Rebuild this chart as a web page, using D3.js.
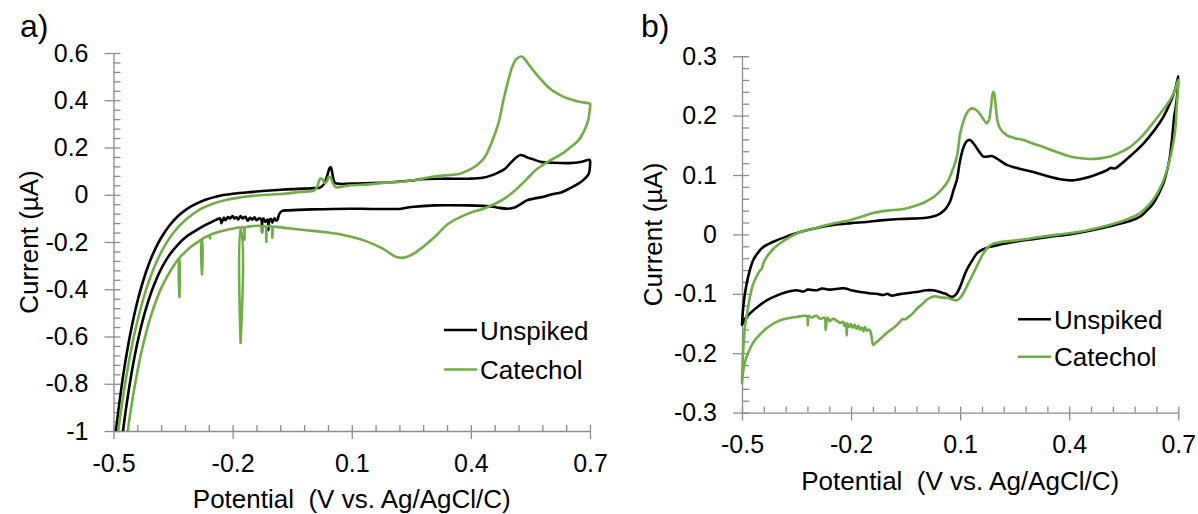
<!DOCTYPE html>
<html>
<head>
<meta charset="utf-8">
<script src="https://cdn.jsdelivr.net/npm/d3@7"></script>
<style>
  html, body { margin: 0; padding: 0; background: #ffffff; }
  svg { display: block; font-family: "Liberation Sans", Arial, Helvetica, sans-serif; }
</style>
</head>
<body>
<svg id="chart" width="1198" height="514"></svg>
<script>
// ---- tick values -------------------------------------------------------
const potentialTicks = [-0.5, -0.2, 0.1, 0.4, 0.7];
const potentialMinorTicks = [-0.44, -0.38, -0.32, -0.26, -0.14, -0.08, -0.02, 0.04,
  0.16, 0.22, 0.28, 0.34, 0.46, 0.52, 0.58, 0.64];
const currentTicksA = [0.6, 0.4, 0.2, 0, -0.2, -0.4, -0.6, -0.8, -1];
const currentTicksB = [0.3, 0.2, 0.1, 0, -0.1, -0.2, -0.3];

const seriesNames = ["Unspiked", "Catechol"];
const seriesColors = ["#000000", "#70ad47"];
const panelLabels = ["a)", "b)"];

// ---- panel a: [potential (V), current (µA)] ----------------------------
const unspikedA = [
  [-0.497,-1.05],[-0.494,-1.0],[-0.485,-0.878],[-0.475,-0.758],[-0.465,-0.655],[-0.455,-0.566],
  [-0.44,-0.453],[-0.425,-0.363],[-0.41,-0.289],[-0.395,-0.23],[-0.38,-0.182],[-0.36,-0.132],
  [-0.34,-0.094],[-0.32,-0.066],[-0.3,-0.045],[-0.27,-0.022],[-0.24,-0.007],[-0.2,0.004],
  [-0.15,0.012],[-0.071,0.022],[-0.02,0.026],[0.005,0.028],[0.02,0.03],[0.03,0.045],
  [0.038,0.08],[0.044,0.112],[0.047,0.117],[0.05,0.1],[0.054,0.065],[0.058,0.05],[0.07,0.046],
  [0.098,0.047],[0.15,0.049],[0.2,0.053],[0.25,0.06],[0.274,0.066],[0.33,0.068],[0.393,0.068],
  [0.43,0.072],[0.452,0.082],[0.47,0.095],[0.486,0.11],[0.5,0.135],[0.515,0.159],[0.525,0.168],
  [0.532,0.166],[0.545,0.156],[0.553,0.152],[0.579,0.138],[0.6,0.136],[0.646,0.134],[0.68,0.14],
  [0.698,0.148],[0.7,0.145],
  [0.7,0.124],[0.697,0.089],[0.685,0.065],[0.671,0.047],[0.65,0.028],[0.629,0.011],[0.6,0.0],
  [0.579,-0.01],[0.56,-0.016],[0.541,-0.024],[0.53,-0.035],[0.52,-0.045],[0.51,-0.054],
  [0.494,-0.059],[0.47,-0.055],[0.461,-0.052],[0.43,-0.047],[0.393,-0.045],[0.309,-0.045],
  [0.25,-0.052],[0.2246,-0.059],[0.15,-0.06],[0.098,-0.059],[0.0,-0.062],[-0.06,-0.066],
  [-0.075,-0.068],[-0.082,-0.08],[-0.087,-0.105],[-0.09,-0.11],[-0.095,-0.1],[-0.1,-0.118],
  [-0.104,-0.102],[-0.108,-0.112],[-0.11,-0.15],[-0.112,-0.105],[-0.118,-0.115],[-0.122,-0.1],
  [-0.125,-0.11],[-0.126,-0.158],[-0.128,-0.105],[-0.133,-0.1],[-0.14,-0.108],[-0.145,-0.095],
  [-0.15,-0.105],[-0.156,-0.098],[-0.162,-0.11],[-0.168,-0.093],[-0.175,-0.1],[-0.18,-0.09],
  [-0.186,-0.105],[-0.19,-0.095],[-0.196,-0.1],[-0.2,-0.09],[-0.207,-0.1],[-0.212,-0.094],
  [-0.218,-0.108],[-0.222,-0.097],[-0.228,-0.12],[-0.232,-0.1],[-0.24,-0.105],[-0.256,-0.118],
  [-0.276,-0.135],[-0.296,-0.155],[-0.316,-0.177],[-0.336,-0.208],[-0.356,-0.248],[-0.376,-0.301],
  [-0.391,-0.353],[-0.406,-0.418],[-0.421,-0.498],[-0.436,-0.598],[-0.446,-0.677],[-0.456,-0.769],
  [-0.466,-0.876],[-0.476,-1.0],[-0.479,-1.05]
];

const catecholA = [
  [-0.491,-1.05],[-0.488,-1.0],[-0.478,-0.879],[-0.468,-0.772],[-0.458,-0.678],[-0.448,-0.595],
  [-0.433,-0.49],[-0.418,-0.402],[-0.403,-0.33],[-0.388,-0.271],[-0.37,-0.213],[-0.35,-0.163],
  [-0.33,-0.124],[-0.31,-0.094],[-0.28,-0.06],[-0.25,-0.038],[-0.22,-0.023],[-0.18,-0.011],
  [-0.13,-0.002],[-0.071,0.004],[-0.03,0.012],[0.005,0.018],[0.012,0.03],[0.018,0.06],
  [0.022,0.07],[0.027,0.065],[0.032,0.05],[0.037,0.055],[0.042,0.075],[0.047,0.073],[0.052,0.05],
  [0.06,0.032],[0.08,0.036],[0.098,0.04],[0.15,0.045],[0.178,0.05],[0.2246,0.055],[0.255,0.061],
  [0.3,0.075],[0.334,0.082],[0.37,0.088],[0.393,0.103],[0.415,0.125],[0.435,0.159],[0.452,0.22],
  [0.469,0.3],[0.482,0.4],[0.494,0.483],[0.505,0.545],[0.515,0.575],[0.528,0.585],[0.537,0.572],
  [0.545,0.553],[0.56,0.52],[0.579,0.483],[0.595,0.455],[0.612,0.434],[0.635,0.413],[0.663,0.398],
  [0.685,0.39],[0.7,0.385],
  [0.7,0.37],[0.698,0.34],[0.695,0.313],[0.685,0.27],[0.671,0.23],[0.65,0.2],[0.629,0.173],
  [0.6,0.145],[0.579,0.124],[0.56,0.1],[0.545,0.074],[0.528,0.045],[0.511,0.018],[0.49,-0.01],
  [0.461,-0.038],[0.43,-0.06],[0.393,-0.08],[0.343,-0.123],[0.309,-0.179],[0.28,-0.22],
  [0.255,-0.25],[0.235,-0.265],[0.226,-0.267],[0.21,-0.262],[0.178,-0.228],[0.129,-0.192],
  [0.081,-0.171],[0.04,-0.16],[-0.015,-0.15],[-0.06,-0.142],[-0.09,-0.136],[-0.099,-0.136],
  [-0.1,-0.182],[-0.101,-0.136],[-0.113,-0.135],[-0.115,-0.2],[-0.117,-0.135],[-0.124,-0.134],
  [-0.125,-0.16],[-0.126,-0.134],[-0.16,-0.135],[-0.168,-0.138],[-0.17,-0.19],[-0.172,-0.14],
  [-0.178,-0.139],[-0.18,-0.627],[-0.182,-0.14],[-0.197,-0.143],[-0.224,-0.152],[-0.244,-0.162],
  [-0.256,-0.17],[-0.257,-0.185],[-0.258,-0.172],[-0.264,-0.176],[-0.276,-0.188],[-0.277,-0.337],
  [-0.278,-0.19],[-0.284,-0.196],[-0.304,-0.219],[-0.324,-0.25],[-0.333,-0.266],[-0.334,-0.433],
  [-0.335,-0.27],[-0.344,-0.29],[-0.364,-0.343],[-0.379,-0.392],[-0.394,-0.454],[-0.409,-0.531],
  [-0.424,-0.625],[-0.434,-0.7],[-0.444,-0.786],[-0.454,-0.884],[-0.464,-1.0],[-0.467,-1.05]
];

// ---- panel b: [potential (V), current (µA)] ----------------------------
const unspikedB = [
  [-0.5,-0.152],[-0.497,-0.125],[-0.492,-0.1],[-0.483,-0.071],[-0.469,-0.043],[-0.455,-0.03],
  [-0.441,-0.021],[-0.405,-0.01],[-0.37,-0.002],[-0.34,0.004],[-0.3,0.01],[-0.249,0.016],
  [-0.2,0.019],[-0.157,0.021],[-0.11,0.024],[-0.065,0.026],[0.008,0.028],[0.03,0.031],
  [0.045,0.035],[0.06,0.043],[0.072,0.055],[0.082,0.075],[0.091,0.092],[0.1,0.125],[0.11,0.148],
  [0.118,0.157],[0.127,0.159],[0.137,0.153],[0.146,0.145],[0.155,0.137],[0.164,0.131],
  [0.175,0.131],[0.187,0.132],[0.2,0.128],[0.215,0.122],[0.228,0.117],[0.26,0.111],[0.301,0.105],
  [0.347,0.097],[0.375,0.093],[0.402,0.091],[0.43,0.093],[0.457,0.097],[0.48,0.102],[0.503,0.108],
  [0.515,0.112],[0.525,0.111],[0.54,0.117],[0.57,0.133],[0.604,0.153],[0.635,0.176],[0.659,0.198],
  [0.68,0.225],[0.693,0.248],[0.7,0.266],
  [0.697,0.235],[0.692,0.21],[0.689,0.2],[0.686,0.181],[0.677,0.131],[0.668,0.105],[0.659,0.086],
  [0.645,0.067],[0.631,0.052],[0.61,0.038],[0.595,0.03],[0.565,0.022],[0.545,0.019],[0.5,0.012],
  [0.439,0.004],[0.4,0.0],[0.347,-0.004],[0.3,-0.008],[0.256,-0.012],[0.21,-0.017],[0.182,-0.021],
  [0.16,-0.026],[0.146,-0.032],[0.132,-0.045],[0.118,-0.06],[0.108,-0.075],[0.1,-0.088],
  [0.09,-0.1],[0.08,-0.105],[0.072,-0.104],[0.06,-0.1],[0.045,-0.097],[0.025,-0.094],
  [0.008,-0.094],[-0.02,-0.097],[-0.047,-0.099],[-0.07,-0.101],[-0.09,-0.103],[-0.1,-0.1],
  [-0.111,-0.102],[-0.13,-0.1],[-0.15,-0.099],[-0.175,-0.097],[-0.2,-0.094],[-0.215,-0.091],
  [-0.23,-0.091],[-0.26,-0.093],[-0.28,-0.091],[-0.294,-0.094],[-0.32,-0.093],[-0.33,-0.096],
  [-0.35,-0.094],[-0.377,-0.097],[-0.405,-0.103],[-0.432,-0.111],[-0.455,-0.121],[-0.478,-0.133],
  [-0.492,-0.143],[-0.5,-0.152]
];

const catecholB = [
  [-0.5,-0.25],[-0.498,-0.21],[-0.495,-0.18],[-0.492,-0.156],[-0.485,-0.13],[-0.478,-0.105],
  [-0.47,-0.085],[-0.46,-0.071],[-0.452,-0.062],[-0.446,-0.058],[-0.44,-0.047],[-0.432,-0.038],
  [-0.415,-0.025],[-0.395,-0.015],[-0.37,-0.005],[-0.34,0.004],[-0.3,0.01],[-0.267,0.016],
  [-0.235,0.02],[-0.203,0.024],[-0.17,0.03],[-0.139,0.036],[-0.1,0.04],[-0.065,0.042],
  [-0.04,0.045],[-0.019,0.049],[0.005,0.055],[0.027,0.063],[0.045,0.073],[0.063,0.086],
  [0.077,0.105],[0.091,0.131],[0.1,0.17],[0.11,0.192],[0.118,0.204],[0.127,0.211],[0.136,0.212],
  [0.145,0.209],[0.155,0.202],[0.165,0.193],[0.173,0.187],[0.179,0.192],[0.184,0.21],[0.188,0.232],
  [0.191,0.24],[0.194,0.236],[0.198,0.215],[0.203,0.19],[0.21,0.178],[0.228,0.167],[0.25,0.162],
  [0.274,0.159],[0.3,0.153],[0.329,0.147],[0.36,0.14],[0.393,0.133],[0.42,0.129],[0.457,0.127],
  [0.485,0.128],[0.512,0.131],[0.54,0.138],[0.567,0.147],[0.595,0.162],[0.622,0.181],[0.65,0.203],
  [0.677,0.226],[0.69,0.242],[0.7,0.26],
  [0.698,0.235],[0.695,0.21],[0.693,0.185],[0.688,0.16],[0.68,0.135],[0.667,0.105],[0.655,0.085],
  [0.64,0.067],[0.62,0.05],[0.595,0.036],[0.57,0.028],[0.545,0.022],[0.5,0.014],[0.45,0.007],
  [0.4,0.002],[0.347,-0.002],[0.3,-0.006],[0.256,-0.01],[0.21,-0.013],[0.19,-0.016],[0.175,-0.022],
  [0.164,-0.032],[0.15,-0.048],[0.136,-0.066],[0.122,-0.083],[0.109,-0.099],[0.1,-0.107],
  [0.091,-0.111],[0.081,-0.11],[0.065,-0.107],[0.045,-0.106],[0.032,-0.104],[0.02,-0.106],
  [0.008,-0.11],[-0.005,-0.118],[-0.019,-0.125],[-0.03,-0.133],[-0.042,-0.139],[-0.051,-0.143],
  [-0.06,-0.143],[-0.065,-0.147],[-0.08,-0.156],[-0.102,-0.166],[-0.12,-0.176],[-0.133,-0.183],
  [-0.139,-0.186],[-0.143,-0.175],[-0.147,-0.163],[-0.152,-0.16],[-0.157,-0.162],[-0.162,-0.156],
  [-0.166,-0.163],[-0.17,-0.157],[-0.176,-0.16],[-0.18,-0.154],[-0.186,-0.159],[-0.19,-0.152],
  [-0.196,-0.157],[-0.2,-0.151],[-0.205,-0.156],[-0.21,-0.15],[-0.212,-0.17],[-0.214,-0.15],
  [-0.218,-0.154],[-0.222,-0.147],[-0.23,-0.149],[-0.24,-0.145],[-0.25,-0.142],[-0.258,-0.146],
  [-0.265,-0.14],[-0.27,-0.161],[-0.273,-0.14],[-0.285,-0.142],[-0.295,-0.137],[-0.31,-0.14],
  [-0.318,-0.137],[-0.319,-0.153],[-0.321,-0.138],[-0.35,-0.139],[-0.386,-0.143],[-0.41,-0.149],
  [-0.432,-0.158],[-0.45,-0.168],[-0.469,-0.182],[-0.48,-0.195],[-0.492,-0.215],[-0.497,-0.232],
  [-0.5,-0.25]
];

// ---- layout --------------------------------------------------------------
const panels = [
  { label: panelLabels[0], series: [unspikedA, catecholA], yTicks: currentTicksA,
    yMinor: 0.04, yDomain: [-1, 0.6],
    xRange: [113.5, 590], yRange: [431, 53],
    labelPos: [20, 37], yTitleX: 38, xTitleY: 508,
    legend: { x: 444, y: 330, gap: 39.5 } },
  { label: panelLabels[1], series: [unspikedB, catecholB], yTicks: currentTicksB,
    yMinor: 0.02, yDomain: [-0.3, 0.3],
    xRange: [742, 1178.3], yRange: [412.6, 56.2],
    labelPos: [641, 37], yTitleX: 662, xTitleY: 490,
    legend: { x: 1018, y: 319.3, gap: 37.4 } }
];

const svg = d3.select("#chart");
const axisColor = "#8c8c8c";
const fmt = d => String(d);

panels.forEach((p, pi) => {
  const x = d3.scaleLinear().domain([-0.5, 0.7]).range(p.xRange);
  const y = d3.scaleLinear().domain(p.yDomain).range(p.yRange);
  const g = svg.append("g");

  // minor tick values on the current axis
  const yMinorVals = d3.range(p.yDomain[0], p.yDomain[1] + 1e-9, p.yMinor)
    .map(v => +v.toFixed(3));

  // inner ticks (right of the y axis, above the x axis)
  g.append("g")
    .attr("transform", `translate(${p.xRange[0]},0)`)
    .call(d3.axisRight(y).tickValues(yMinorVals).tickSize(7).tickFormat(""))
    .call(a => a.select(".domain").remove());
  g.append("g")
    .attr("transform", `translate(0,${p.yRange[0]})`)
    .call(d3.axisTop(x).tickValues(potentialTicks.concat(potentialMinorTicks)).tickSize(6).tickFormat(""))
    .call(a => a.select(".domain").remove());

  // labelled axes with crossing major ticks
  const yAxis = g.append("g")
    .attr("transform", `translate(${p.xRange[0]},0)`)
    .call(d3.axisLeft(y).tickValues(p.yTicks).tickSize(9).tickSizeOuter(0).tickPadding(16).tickFormat(fmt));
  const xAxis = g.append("g")
    .attr("transform", `translate(0,${p.yRange[0]})`)
    .call(d3.axisBottom(x).tickValues(potentialTicks).tickSize(8).tickSizeOuter(0).tickPadding(15).tickFormat(fmt));

  g.selectAll(".tick line, .domain")
    .attr("stroke", axisColor).attr("stroke-width", 1.3);
  [yAxis, xAxis].forEach(a => a.selectAll("text")
    .attr("font-size", 25).attr("fill", "#000")
    .attr("font-family", "'Liberation Sans', Arial, sans-serif"));

  // curves
  const clipId = "clip" + pi;
  svg.append("clipPath").attr("id", clipId).append("rect")
    .attr("x", p.xRange[0] - 4).attr("y", p.yRange[1] - 4)
    .attr("width", p.xRange[1] - p.xRange[0] + 8)
    .attr("height", p.yRange[0] - p.yRange[1] + 4);

  const line = d3.line()
    .x(d => x(d[0])).y(d => y(d[1]))
    .curve(d3.curveCatmullRom.alpha(0.5));

  const plot = g.append("g").attr("clip-path", `url(#${clipId})`);
  p.series.forEach((data, si) => {
    plot.append("path")
      .datum(data)
      .attr("d", line)
      .attr("fill", "none")
      .attr("stroke", seriesColors[si])
      .attr("stroke-width", 2.6)
      .attr("stroke-linejoin", "round")
      .attr("stroke-linecap", "round");
  });

  // axis titles
  const cx = (p.xRange[0] + p.xRange[1]) / 2;
  const cy = (p.yRange[0] + p.yRange[1]) / 2;
  g.append("text")
    .attr("x", cx).attr("y", p.xTitleY)
    .attr("text-anchor", "middle").attr("font-size", 26)
    .style("white-space", "pre").attr("fill", "#000")
    .text("Potential  (V vs. Ag/AgCl/C)");
  g.append("text")
    .attr("transform", `translate(${p.yTitleX},${cy}) rotate(-90)`)
    .attr("text-anchor", "middle").attr("font-size", 26).attr("fill", "#000")
    .text("Current (µA)");

  // panel letter
  g.append("text")
    .attr("x", p.labelPos[0]).attr("y", p.labelPos[1])
    .attr("font-size", 32).attr("fill", "#000")
    .text(p.label);

  // legend
  seriesNames.forEach((name, si) => {
    const ly = p.legend.y + si * p.legend.gap;
    g.append("line")
      .attr("x1", p.legend.x).attr("x2", p.legend.x + 33)
      .attr("y1", ly).attr("y2", ly)
      .attr("stroke", seriesColors[si]).attr("stroke-width", 2.6);
    g.append("text")
      .attr("x", p.legend.x + 36).attr("y", ly + 9.5)
      .attr("font-size", 26).attr("fill", "#000")
      .text(name);
  });
});
</script>
</body>
</html>
